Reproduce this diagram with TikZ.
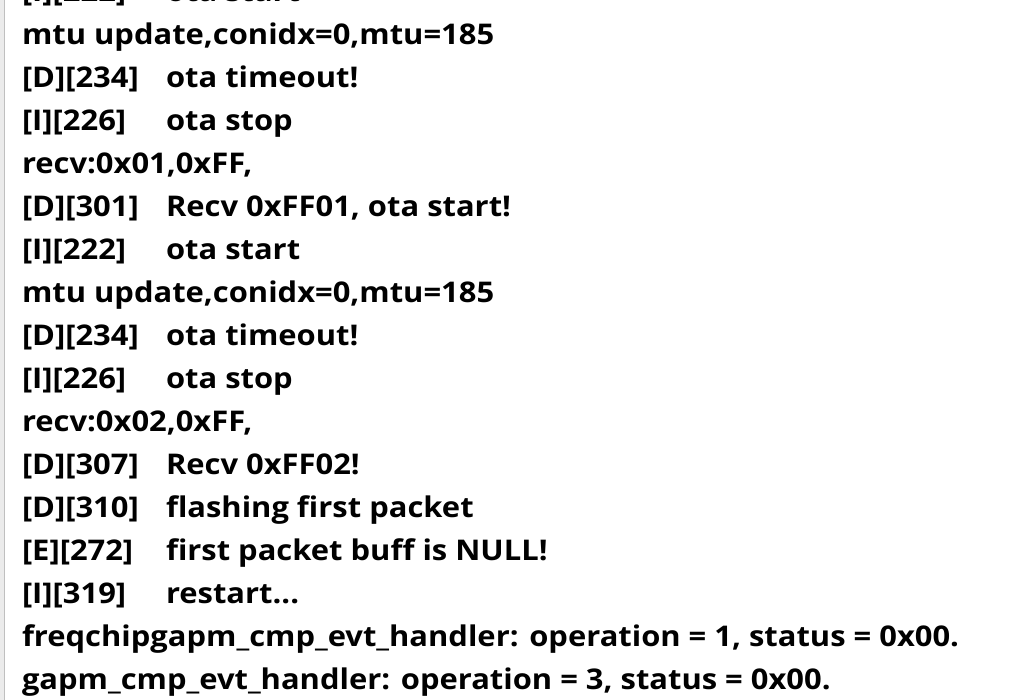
\documentclass[tikz,border=0pt]{standalone}
\usepackage{fontspec}
\setmainfont{Open Sans}[BoldFont={* Bold},FakeStretch=1.085]
\begin{document}
\begin{tikzpicture}[x=1pt,y=1pt,
  logtxt/.style={anchor=base west,inner sep=0pt,outer sep=0pt,font=\fontsize{28.5}{34}\selectfont\bfseries,text=black}]
\useasboundingbox (0,0) rectangle (1024,700);
\fill[white] (0,0) rectangle (1024,700);
\fill[black!8] (0,0) rectangle (3.5,700);
\draw[black!25,line width=1.5pt] (4.5,0) -- (4.5,700);
% baselines: y = 700 - (88 + 43*(k-2))
\node[logtxt] (t0)  at (22,698) {[I][222]};
\node[logtxt] (m0)  at (166,698) {ota start};
\node[logtxt] (m1)  at (22,655) {mtu update,conidx=0,mtu=185};
\node[logtxt] (t2)  at (22,612) {[D][234]};
\node[logtxt] (m2)  at (166,612) {ota timeout!};
\node[logtxt] (t3)  at (22,569) {[I][226]};
\node[logtxt] (m3)  at (166,569) {ota stop};
\node[logtxt] (m4)  at (22,526) {recv:0x01,0xFF,};
\node[logtxt] (t5)  at (22,483) {[D][301]};
\node[logtxt] (m5)  at (166,483) {Recv 0xFF01, ota start!};
\node[logtxt] (t6)  at (22,440) {[I][222]};
\node[logtxt] (m6)  at (166,440) {ota start};
\node[logtxt] (m7)  at (22,397) {mtu update,conidx=0,mtu=185};
\node[logtxt] (t8)  at (22,354) {[D][234]};
\node[logtxt] (m8)  at (166,354) {ota timeout!};
\node[logtxt] (t9)  at (22,311) {[I][226]};
\node[logtxt] (m9)  at (166,311) {ota stop};
\node[logtxt] (m10) at (22,268) {recv:0x02,0xFF,};
\node[logtxt] (t11) at (22,225) {[D][307]};
\node[logtxt] (m11) at (166,225) {Recv 0xFF02!};
\node[logtxt] (t12) at (22,182) {[D][310]};
\node[logtxt] (m12) at (166,182) {flashing first packet};
\node[logtxt] (t13) at (22,139) {[E][272]};
\node[logtxt] (m13) at (166,139) {first packet buff is NULL!};
\node[logtxt] (t14) at (22,96) {[I][319]};
\node[logtxt] (m14) at (166,96) {restart...};
\node[logtxt] (m15) at (22,53) {freqchipgapm\_cmp\_evt\_handler: operation = 1, status = 0x00.};
\node[logtxt] (m16) at (22,10) {gapm\_cmp\_evt\_handler: operation = 3, status = 0x00.};
\end{tikzpicture}
\end{document}
